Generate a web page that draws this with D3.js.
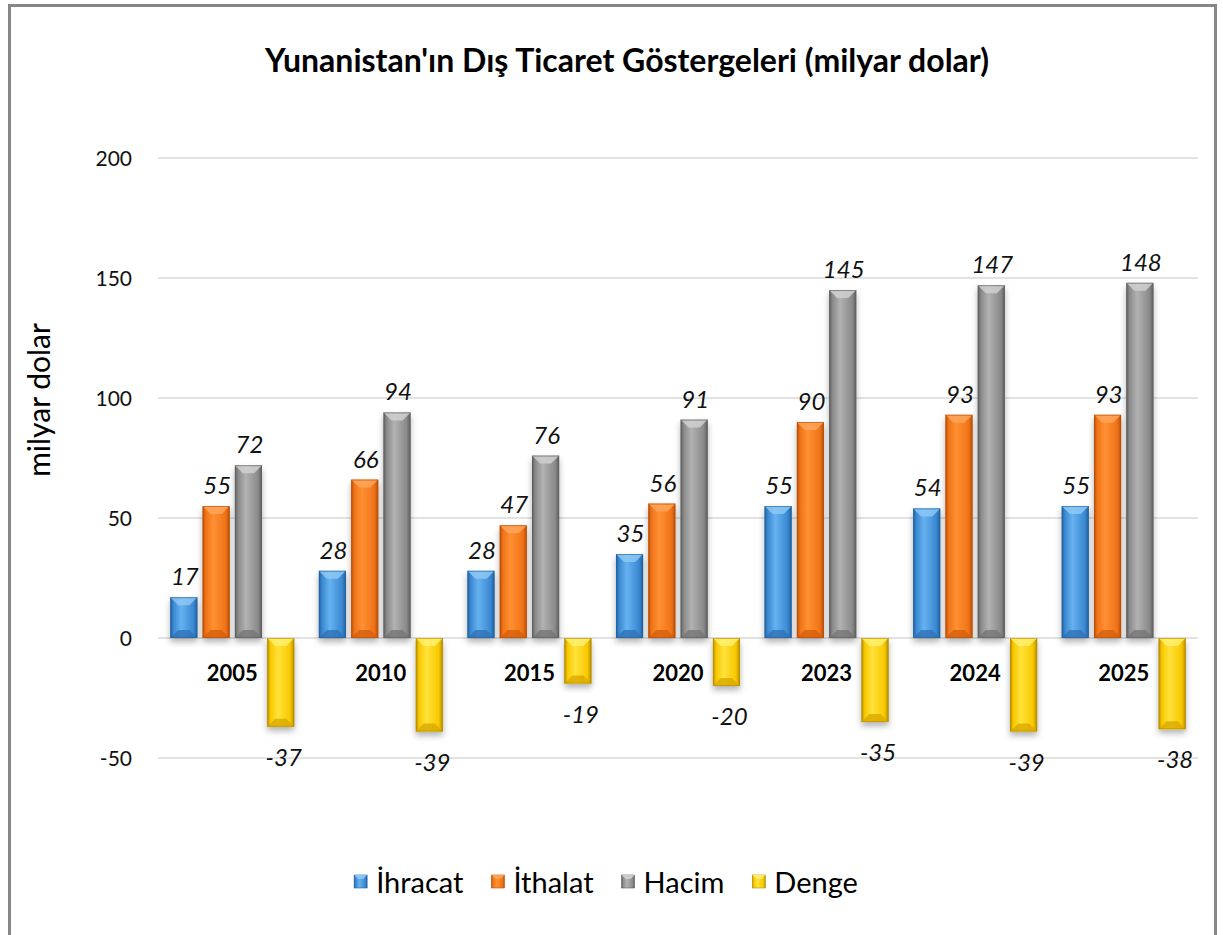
<!DOCTYPE html>
<html><head><meta charset="utf-8">
<script src="https://cdn.jsdelivr.net/npm/d3@7/dist/d3.min.js"></script>
<style>body{margin:0;background:#fff;}svg{display:block;font-family:Lato,"Liberation Sans",sans-serif;}</style>
</head><body><svg id="c" width="1223" height="935"></svg>
<script>
const years = ["2005","2010","2015","2020","2023","2024","2025"];
const ihracat = [17,28,28,35,55,54,55];
const ithalat = [55,66,47,56,90,93,93];
const hacim = [72,94,76,91,145,147,148];
const denge = [-37,-39,-19,-20,-35,-39,-38];
const seriesNames = ["İhracat","İthalat","Hacim","Denge"];
const yTicks = [-50,0,50,100,150,200];

const palette = [
  {base:"#3b88d2", light:"#66b2f0", dark:"#21609e", top:"#8cc8f5", bot:"#2f72b5"},
  {base:"#f07318", light:"#ff9033", dark:"#b94e06", top:"#ffa55a", bot:"#d45f0c"},
  {base:"#8a8a8a", light:"#b2b2b2", dark:"#5e5e5e", top:"#d0d0d0", bot:"#767676"},
  {base:"#f8c800", light:"#ffe23a", dark:"#b58c00", top:"#fff070", bot:"#d9a900"}
];
const seriesData = [ihracat, ithalat, hacim, denge];

const svg = d3.select("#c");
svg.append("rect").attr("x",9.5).attr("y",5.5).attr("width",1206).attr("height",940)
  .attr("fill","#fff").attr("stroke","#878787").attr("stroke-width",3);

const defs = svg.append("defs");
palette.forEach((p,i)=>{
  const g = defs.append("linearGradient").attr("id","g"+i).attr("x1","0").attr("x2","1").attr("y1","0").attr("y2","0");
  g.append("stop").attr("offset","0").attr("stop-color",p.dark);
  g.append("stop").attr("offset","0.12").attr("stop-color",p.base);
  g.append("stop").attr("offset","0.4").attr("stop-color",p.light);
  g.append("stop").attr("offset","0.85").attr("stop-color",p.base);
  g.append("stop").attr("offset","1").attr("stop-color",p.dark);
});
const f = defs.append("filter").attr("id","sh").attr("x","-30%").attr("y","-10%").attr("width","160%").attr("height","130%");
f.append("feDropShadow").attr("dx",0).attr("dy",4).attr("stdDeviation",3).attr("flood-color","#000").attr("flood-opacity",0.3);

const margin = {left:158, right:1198, top:158, bottom:758};
const y = d3.scaleLinear().domain([-50,200]).range([margin.bottom, margin.top]);
const x0 = d3.scaleBand().domain(years).range([margin.left, margin.right]).paddingInner(0.165).paddingOuter(0.0825);
const x1 = d3.scaleBand().domain(d3.range(4)).range([0, x0.bandwidth()]).paddingInner(0.16);

svg.append("g").selectAll("line").data(yTicks).join("line")
  .attr("x1",margin.left).attr("x2",margin.right)
  .attr("y1",d=>y(d)).attr("y2",d=>y(d))
  .attr("stroke","#d9d9d9").attr("stroke-width",1.3);

const yAxis = d3.axisLeft(y).tickValues(yTicks).tickSize(0).tickPadding(0).tickFormat(d=>String(d));
const ya = svg.append("g").attr("transform","translate(132,0)").call(yAxis);
ya.select(".domain").remove();
ya.selectAll("text").attr("font-size",21).attr("fill","#111").attr("font-family","Lato,sans-serif").attr("dy","0.35em");

svg.append("text").attr("x",627).attr("y",72).attr("text-anchor","middle")
  .attr("font-size",32).attr("font-weight","bold").attr("fill","#000")
  .text("Yunanistan'ın Dış Ticaret Göstergeleri (milyar dolar)");
svg.append("text").attr("transform","translate(50,400) rotate(-90)").attr("text-anchor","middle")
  .attr("font-size",30).attr("fill","#000").text("milyar dolar");

const groups = svg.append("g").selectAll("g").data(years).join("g")
  .attr("transform",d=>`translate(${x0(d)},0)`);

groups.each(function(yr, yi){
  const g = d3.select(this);
  seriesData.forEach((arr, si)=>{
    const v = arr[yi];
    const p = palette[si];
    const bx = x1(si), bw = x1.bandwidth();
    const yTop = y(Math.max(0,v)), yBot = y(Math.min(0,v));
    const h = yBot - yTop;
    const bg = g.append("g");
    bg.append("rect").attr("x",bx).attr("y",yTop).attr("width",bw).attr("height",h)
      .attr("fill",`url(#g${si})`).attr("filter","url(#sh)");
    const b = Math.min(8, h/2);
    bg.append("path").attr("d",`M${bx},${yTop} L${bx+bw},${yTop} L${bx+bw-b},${yTop+b} L${bx+b},${yTop+b} Z`)
      .attr("fill",p.top).attr("opacity",0.85);
    bg.append("path").attr("d",`M${bx},${yBot} L${bx+bw},${yBot} L${bx+bw-b},${yBot-b} L${bx+b},${yBot-b} Z`)
      .attr("fill",p.bot).attr("opacity",0.8);
    bg.append("rect").attr("x",bx+0.5).attr("y",yTop+0.5).attr("width",bw-1).attr("height",Math.max(0,h-1))
      .attr("fill","none").attr("stroke",p.dark).attr("stroke-width",1).attr("opacity",0.6);
    const ly = v >= 0 ? yTop - 12 : yBot + 39;
    g.append("text").attr("x",bx+bw/2 + (v<0?3:1)).attr("y",ly).attr("text-anchor","middle")
      .attr("font-size",24).attr("font-style","italic").attr("fill","#111").text(v);
  });
  g.append("text").attr("x",x0.bandwidth()/2).attr("y",681).attr("text-anchor","middle")
    .attr("font-size",22).attr("font-weight","bold").attr("fill","#000").text(yr);
});

const leg = svg.append("g");
const items = [];
seriesNames.forEach((n,i)=>{
  const it = leg.append("g");
  it.append("rect").attr("x",0).attr("y",-18).attr("width",13).attr("height",13).attr("fill",`url(#g${i})`).attr("stroke",palette[i].dark).attr("stroke-width",0.6);
  it.append("path").attr("d","M0,-18 L13,-18 L9,-14 L4,-14 Z").attr("fill",palette[i].top).attr("opacity",0.9);
  const t = it.append("text").attr("x",22).attr("y",0).attr("font-size",29).attr("fill","#000").text(n);
  const w = 22 + t.node().getComputedTextLength();
  items.push({it,w});
});
const gap = 28;
const total = d3.sum(items,d=>d.w) + gap*(items.length-1);
let startX = 606 - total/2;
items.forEach(d=>{ d.it.attr("transform",`translate(${startX},893)`); startX += d.w + gap; });
</script></body></html>
